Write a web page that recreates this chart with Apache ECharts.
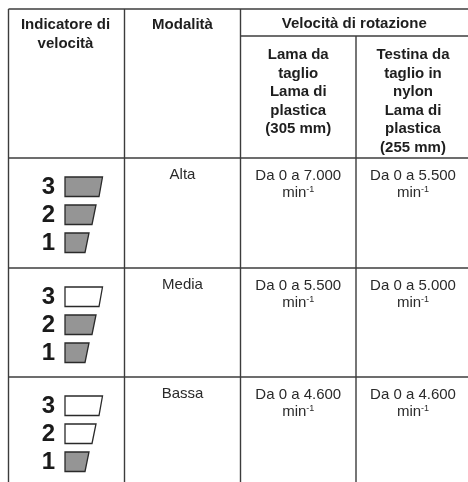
<!DOCTYPE html>
<html><head><meta charset="utf-8">
<script src="https://cdn.jsdelivr.net/npm/echarts@6/dist/echarts.min.js"></script>
<style>html,body{margin:0;padding:0;background:#fff}#c{width:468px;height:482px}</style>
</head><body><div id="c"></div>
<script>
// ---- data ----
const headerIndicator = ['Indicatore di', 'velocità'];
const headerMode = ['Modalità'];
const headerSpeed = ['Velocità di rotazione'];
const headerBlade = ['Lama da', 'taglio', 'Lama di', 'plastica', '(305 mm)'];
const headerNylon = ['Testina da', 'taglio in', 'nylon', 'Lama di', 'plastica', '(255 mm)'];
const modes = ['Alta', 'Media', 'Bassa'];
const speedBlade = ['7.000', '5.500', '4.600'];
const speedNylon = ['5.500', '5.000', '4.600'];
const litSegments = [3, 2, 1];
const segmentLevels = [3, 2, 1];
const speedPrefix = 'Da 0 a ';
const unit = 'min';
const unitExp = '-1';

// ---- layout ----
const COLS = [8.5, 124.5, 240.5, 356, 472];
const ROWS = [9, 36, 158, 268, 377, 486];
const LINE_H = 18.5;
const FONT = 'Liberation Sans, Arial, Helvetica, sans-serif';
const colCenter = i => (COLS[i] + COLS[i + 1]) / 2;

// border segments
const lines = [
  [COLS[0], ROWS[0], COLS[4], ROWS[0]],
  [COLS[2], ROWS[1], COLS[4], ROWS[1]],
  [COLS[0], ROWS[2], COLS[4], ROWS[2]],
  [COLS[0], ROWS[3], COLS[4], ROWS[3]],
  [COLS[0], ROWS[4], COLS[4], ROWS[4]],
  [COLS[0], ROWS[0], COLS[0], ROWS[5]],
  [COLS[1], ROWS[0], COLS[1], ROWS[5]],
  [COLS[2], ROWS[0], COLS[2], ROWS[5]],
  [COLS[3], ROWS[1], COLS[3], ROWS[5]]
];

// texts: [x, y, text, bold]
const texts = [];
headerIndicator.forEach((t, i) => texts.push([colCenter(0) - 1, 25 + i * LINE_H, t, 1]));
headerMode.forEach((t, i) => texts.push([colCenter(1), 25 + i * LINE_H, t, 1]));
headerSpeed.forEach((t, i) => texts.push([(COLS[2] + COLS[4]) / 2 - 2, 24 + i * LINE_H, t, 1]));
headerBlade.forEach((t, i) => texts.push([colCenter(2), 55 + i * LINE_H, t, 1]));
headerNylon.forEach((t, i) => texts.push([colCenter(3) - 1, 55 + i * LINE_H, t, 1]));
modes.forEach((m, r) => {
  const top = ROWS[r + 2];
  texts.push([colCenter(1), top + 17, m, 0]);
  texts.push([colCenter(2), top + 18, speedPrefix + speedBlade[r], 0]);
  texts.push([colCenter(3) - 1, top + 18, speedPrefix + speedNylon[r], 0]);
  texts.push([colCenter(2), top + 35, 'unit', 0]);
  texts.push([colCenter(3) - 1, top + 35, 'unit', 0]);
});

// indicator segments: [rowIndex, level, filled, slot]
const segs = [];
modes.forEach((m, r) => {
  segmentLevels.forEach((lv, k) => {
    segs.push([r, lv, lv <= litSegments[r] ? 1 : 0, k]);
  });
});

const chart = echarts.init(document.getElementById('c'), null, { renderer: 'canvas' });
const SEG_TOP = [19, 47, 75];
const SEG_W = { 3: [37.5, 34], 2: [31, 27], 1: [24, 20] };

chart.setOption({
  animation: false,
  grid: { left: 0, right: 0, top: 0, bottom: 0 },
  xAxis: { type: 'value', min: 0, max: 468, show: false },
  yAxis: { type: 'value', min: 0, max: 482, inverse: true, show: false },
  series: [
    {
      type: 'custom', coordinateSystem: 'cartesian2d', data: lines, silent: true,
      encode: { x: [0, 2], y: [1, 3] },
      renderItem: (params, api) => {
        const p1 = api.coord([api.value(0), api.value(1)]);
        const p2 = api.coord([api.value(2), api.value(3)]);
        return { type: 'line', shape: { x1: p1[0], y1: p1[1], x2: p2[0], y2: p2[1] },
          style: { stroke: '#3c3c3c', lineWidth: 1.4 } };
      }
    },
    {
      type: 'custom', coordinateSystem: 'cartesian2d', data: segs, silent: true,
      renderItem: (params, api) => {
        const r = api.value(0), lv = api.value(1), filled = api.value(2), k = api.value(3);
        const top = ROWS[r + 2] + SEG_TOP[k];
        const w = SEG_W[lv];
        const a = api.coord([65, top]);
        const b = api.coord([65 + w[0], top]);
        const c = api.coord([65 + w[1], top + 19.5]);
        const d = api.coord([65, top + 19.5]);
        const digit = api.coord([48.5, top + 10]);
        return { type: 'group', children: [
          { type: 'polygon', shape: { points: [a, b, c, d] },
            style: { fill: filled ? '#959595' : '#ffffff', stroke: '#2a2a2a', lineWidth: 1.3 } },
          { type: 'text', x: digit[0], y: digit[1],
            style: { text: String(lv), font: 'bold 24px ' + FONT, fill: '#1a1a1a', align: 'center', verticalAlign: 'middle' } }
        ] };
      }
    },
    {
      type: 'custom', coordinateSystem: 'cartesian2d', data: texts, silent: true,
      renderItem: (params, api) => {
        const t = texts[params.dataIndex];
        const p = api.coord([t[0], t[1]]);
        if (t[2] === 'unit') {
          return { type: 'text', x: p[0], y: p[1],
            style: { text: '{u|' + unit + '}{e|' + unitExp + '}', align: 'center', verticalAlign: 'middle',
              rich: { u: { font: '15px ' + FONT, fill: '#2a2a2a', lineHeight: 16 },
                      e: { font: '9px ' + FONT, fill: '#2a2a2a', verticalAlign: 'top', lineHeight: 16, padding: [0, 0, 9, 0] } } } };
        }
        return { type: 'text', x: p[0], y: p[1],
          style: { text: t[2], font: (t[3] ? 'bold ' : '') + '15px ' + FONT, fill: t[3] ? '#1e1e1e' : '#2a2a2a',
            align: 'center', verticalAlign: 'middle' } };
      }
    }
  ]
});
</script>
</body></html>
